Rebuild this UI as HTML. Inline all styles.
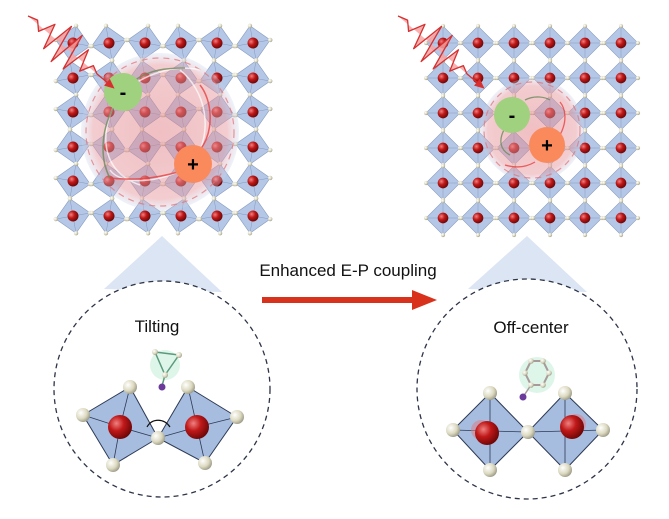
<!DOCTYPE html>
<html><head><meta charset="utf-8"><style>
html,body{margin:0;padding:0;background:#fff;}
svg{display:block;}
</style></head><body>
<svg width="669" height="519" viewBox="0 0 669 519" xmlns="http://www.w3.org/2000/svg" font-family="Liberation Sans, sans-serif">
<defs>
<radialGradient id="rg" cx="0.35" cy="0.35" r="0.7"><stop offset="0" stop-color="#f08080"/><stop offset="0.45" stop-color="#c01818"/><stop offset="1" stop-color="#6a0606"/></radialGradient>
<radialGradient id="bg" cx="0.35" cy="0.35" r="0.7"><stop offset="0" stop-color="#ffffff"/><stop offset="0.6" stop-color="#dcd9c0"/><stop offset="1" stop-color="#9c9a86"/></radialGradient>
<radialGradient id="pink" cx="0.5" cy="0.5" r="0.5"><stop offset="0" stop-color="#e07f86" stop-opacity="0.5"/><stop offset="0.85" stop-color="#e79aa0" stop-opacity="0.5"/><stop offset="1" stop-color="#c8d6ee" stop-opacity="0.3"/></radialGradient>
<g id="o">
<polygon points="0,-17.5 17.5,0 0,17.5 -17.5,0" fill="#b4c7e6" stroke="#8a9dc0" stroke-width="0.6"/>
<path d="M0,-17.5L0,17.5M-17.5,0L17.5,0" stroke="#7d90b5" stroke-width="0.4"/>
<circle r="5.5" fill="url(#rg)"/>
<circle cx="0" cy="-17.5" r="2.2" fill="url(#bg)"/><circle cx="17.5" cy="0" r="2.2" fill="url(#bg)"/>
<circle cx="0" cy="17.5" r="2.2" fill="url(#bg)"/><circle cx="-17.5" cy="0" r="2.2" fill="url(#bg)"/>
</g>
<g id="a"><use href="#o" transform="rotate(10)"/></g>
<g id="b"><use href="#o" transform="rotate(-10)"/></g>
<g id="c"><use href="#o" transform="scale(0.97)"/></g>
</defs>

<!-- left lattice -->
<g>
<use href="#a" x="73" y="43"/><use href="#b" x="109" y="43"/><use href="#a" x="145" y="43"/><use href="#b" x="181" y="43"/><use href="#a" x="217" y="43"/><use href="#b" x="253" y="43"/>
<use href="#b" x="73" y="78"/><use href="#a" x="109" y="78"/><use href="#b" x="145" y="78"/><use href="#a" x="181" y="78"/><use href="#b" x="217" y="78"/><use href="#a" x="253" y="78"/>
<use href="#a" x="73" y="112"/><use href="#b" x="109" y="112"/><use href="#a" x="145" y="112"/><use href="#b" x="181" y="112"/><use href="#a" x="217" y="112"/><use href="#b" x="253" y="112"/>
<use href="#b" x="73" y="147"/><use href="#a" x="109" y="147"/><use href="#b" x="145" y="147"/><use href="#a" x="181" y="147"/><use href="#b" x="217" y="147"/><use href="#a" x="253" y="147"/>
<use href="#a" x="73" y="181"/><use href="#b" x="109" y="181"/><use href="#a" x="145" y="181"/><use href="#b" x="181" y="181"/><use href="#a" x="217" y="181"/><use href="#b" x="253" y="181"/>
<use href="#b" x="73" y="216"/><use href="#a" x="109" y="216"/><use href="#b" x="145" y="216"/><use href="#a" x="181" y="216"/><use href="#b" x="217" y="216"/><use href="#a" x="253" y="216"/>
</g>
<!-- right lattice -->
<g>
<use href="#c" x="443" y="43"/><use href="#c" x="478" y="43"/><use href="#c" x="514" y="43"/><use href="#c" x="550" y="43"/><use href="#c" x="585" y="43"/><use href="#c" x="621" y="43"/>
<use href="#c" x="443" y="78"/><use href="#c" x="478" y="78"/><use href="#c" x="514" y="78"/><use href="#c" x="550" y="78"/><use href="#c" x="585" y="78"/><use href="#c" x="621" y="78"/>
<use href="#c" x="443" y="113"/><use href="#c" x="478" y="113"/><use href="#c" x="514" y="113"/><use href="#c" x="550" y="113"/><use href="#c" x="585" y="113"/><use href="#c" x="621" y="113"/>
<use href="#c" x="443" y="148"/><use href="#c" x="478" y="148"/><use href="#c" x="514" y="148"/><use href="#c" x="550" y="148"/><use href="#c" x="585" y="148"/><use href="#c" x="621" y="148"/>
<use href="#c" x="443" y="183"/><use href="#c" x="478" y="183"/><use href="#c" x="514" y="183"/><use href="#c" x="550" y="183"/><use href="#c" x="585" y="183"/><use href="#c" x="621" y="183"/>
<use href="#c" x="443" y="218"/><use href="#c" x="478" y="218"/><use href="#c" x="514" y="218"/><use href="#c" x="550" y="218"/><use href="#c" x="585" y="218"/><use href="#c" x="621" y="218"/>
</g>

<!-- exciton left -->
<circle cx="160" cy="132" r="79" fill="url(#pink)"/>
<circle cx="160" cy="132" r="74" fill="none" stroke="#e07077" stroke-width="1.2" stroke-dasharray="6 5" opacity="0.7"/>
<path d="M123,92 C100,120 95,170 140,185 M123,92 C150,70 180,65 200,70 M193,164 C215,130 205,90 180,70 M193,164 C160,185 120,185 110,170" fill="none" stroke="#fff" stroke-width="1.5" opacity="0.7"/>
<path d="M115,105 C100,130 100,160 110,178 M135,80 C150,70 165,68 185,68" fill="none" stroke="#6c8a5a" stroke-width="1.5" opacity="0.8"/>
<path d="M200,150 C215,130 212,100 200,85 M178,172 C150,180 130,180 110,178" fill="none" stroke="#e84040" stroke-width="1.5" opacity="0.8"/>
<circle cx="123" cy="92" r="19" fill="#9fd17f"/>
<text x="123" y="99" font-size="20" font-weight="bold" text-anchor="middle">-</text>
<circle cx="193" cy="164" r="19" fill="#fa8a5c"/>
<text x="193" y="171" font-size="20" font-weight="bold" text-anchor="middle">+</text>

<!-- exciton right -->
<circle cx="532" cy="130" r="52" fill="url(#pink)"/>
<circle cx="532" cy="130" r="48" fill="none" stroke="#e07077" stroke-width="1.2" stroke-dasharray="6 5" opacity="0.7"/>
<path d="M505,128 C498,140 500,150 510,155 M525,100 C535,95 545,97 550,100" fill="none" stroke="#6c8a5a" stroke-width="1.3" opacity="0.8"/>
<path d="M560,135 C568,120 565,108 560,102 M535,162 C525,168 515,168 505,165" fill="none" stroke="#e84040" stroke-width="1.3" opacity="0.8"/>
<circle cx="512" cy="115" r="18" fill="#9fd17f"/>
<text x="512" y="122" font-size="20" font-weight="bold" text-anchor="middle">-</text>
<circle cx="547" cy="145" r="18" fill="#fa8a5c"/>
<text x="547" y="152" font-size="20" font-weight="bold" text-anchor="middle">+</text>

<!-- light waves -->
<g id="w" transform="translate(28,16) rotate(40)">
<polygon points="0,0 10,-3 18,5 26,-11 33,15 40,-20 47,20 54,-20 61,18 68,-13 75,9 82,-4 90,0" fill="#f6a3a3" opacity="0.85"/>
<polyline points="0,0 10,-3 18,5 26,-11 33,15 40,-20 47,20 54,-20 61,18 68,-13 75,9 82,-4 90,0 106,0" fill="none" stroke="#d63030" stroke-width="1.3" stroke-linejoin="round"/>
<path d="M113,0 L103,-4.5 L103,4.5 Z" fill="#d63030"/>
</g>
<use href="#w" x="370" y="0"/>

<!-- zoom cones -->
<polygon points="162,236 104,289 222,292" fill="#dbe5f3"/>
<polygon points="527,236 468,289 587,292" fill="#dbe5f3"/>
<circle cx="162" cy="389" r="108" fill="#fff" stroke="#2d3447" stroke-width="1.3" stroke-dasharray="5 4"/>
<circle cx="527" cy="389" r="110" fill="#fff" stroke="#2d3447" stroke-width="1.3" stroke-dasharray="5 4"/>

<!-- arrow -->
<text x="348" y="276" font-size="17" text-anchor="middle" fill="#111">Enhanced E-P coupling</text>
<rect x="262" y="297" width="154" height="6" fill="#d8321d"/>
<polygon points="412,290 437,300 412,310" fill="#d8321d"/>

<text x="157" y="332" font-size="17" text-anchor="middle" fill="#111">Tilting</text>
<text x="531" y="333" font-size="17" text-anchor="middle" fill="#111">Off-center</text>

<!-- bottom left tilted octahedra -->
<polygon points="130,387 83,415 113,465 158,438" fill="#a7bde0" stroke="#2d3a55" stroke-width="1"/>
<path d="M130,387L120,427L113,465M83,415L120,427L158,438" stroke="#2d3a55" stroke-width="0.8" fill="none"/>
<polygon points="188,387 237,417 205,463 158,438" fill="#a7bde0" stroke="#2d3a55" stroke-width="1"/>
<path d="M188,387L197,427L205,463M237,417L197,427L158,438" stroke="#2d3a55" stroke-width="0.8" fill="none"/>
<circle cx="120" cy="427" r="12" fill="url(#rg)"/><circle cx="197" cy="427" r="12" fill="url(#rg)"/>
<g fill="url(#bg)"><circle cx="130" cy="387" r="7"/><circle cx="83" cy="415" r="7"/><circle cx="113" cy="465" r="7"/><circle cx="158" cy="438" r="7"/><circle cx="188" cy="387" r="7"/><circle cx="237" cy="417" r="7"/><circle cx="205" cy="463" r="7"/></g>
<path d="M147,427 C152,418 164,418 170,427" fill="none" stroke="#111" stroke-width="1.2"/>
<!-- molecule left -->
<circle cx="165" cy="365" r="15" fill="#c8f0dc" opacity="0.6"/>
<polygon points="155,352 179,355 165,375" fill="none" stroke="#5c9a7c" stroke-width="1.5"/>
<path d="M165,375 L162,386" stroke="#5c9a7c" stroke-width="1.5"/>
<g fill="url(#bg)"><circle cx="155" cy="352" r="3"/><circle cx="179" cy="355" r="3"/><circle cx="165" cy="375" r="3"/></g>
<circle cx="162" cy="387" r="3.5" fill="#6b3a9a"/>

<!-- bottom right octahedra -->
<polygon points="490,393 453,430 490,470 528,432" fill="#a7bde0" stroke="#2d3a55" stroke-width="1"/>
<path d="M490,393L490,470M453,430L528,432" stroke="#2d3a55" stroke-width="0.8"/>
<polygon points="565,393 528,432 565,470 603,430" fill="#a7bde0" stroke="#2d3a55" stroke-width="1"/>
<path d="M565,393L565,470M528,432L603,430" stroke="#2d3a55" stroke-width="0.8"/>
<circle cx="481" cy="430" r="10" fill="#e07a80" opacity="0.5"/><circle cx="576" cy="424" r="10" fill="#e07a80" opacity="0.5"/>
<circle cx="487" cy="433" r="12" fill="url(#rg)"/><circle cx="572" cy="427" r="12" fill="url(#rg)"/>
<g fill="url(#bg)"><circle cx="490" cy="393" r="7"/><circle cx="453" cy="430" r="7"/><circle cx="490" cy="470" r="7"/><circle cx="528" cy="432" r="7"/><circle cx="565" cy="393" r="7"/><circle cx="603" cy="430" r="7"/><circle cx="565" cy="470" r="7"/></g>
<!-- molecule right -->
<circle cx="537" cy="375" r="18" fill="#c8f0dc" opacity="0.6"/>
<polygon points="531,361 543,361 549,373 543,385 531,385 525,373" fill="none" stroke="#a89a9a" stroke-width="2"/>
<path d="M531,385 L523,397" stroke="#a89a9a" stroke-width="1.5"/>
<g fill="url(#bg)"><circle cx="531" cy="361" r="2.8"/><circle cx="543" cy="361" r="2.8"/><circle cx="549" cy="373" r="2.8"/><circle cx="543" cy="385" r="2.8"/><circle cx="531" cy="385" r="2.8"/><circle cx="525" cy="373" r="2.8"/></g>
<circle cx="523" cy="397" r="3.5" fill="#6b3a9a"/>
</svg>
</body></html>
